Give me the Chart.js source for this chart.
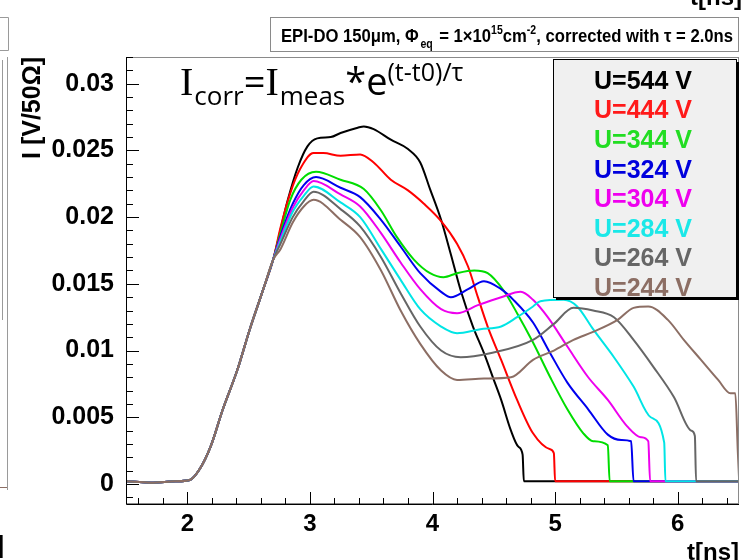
<!DOCTYPE html>
<html>
<head>
<meta charset="utf-8">
<script src="https://cdn.jsdelivr.net/npm/chart.js@4.4.0/dist/chart.umd.min.js"></script>
<style>
html, body { margin: 0; padding: 0; background: #fff; }
#wrap { width: 742px; height: 560px; position: relative; }
</style>
</head>
<body>
<div id="wrap"><canvas id="myChart" width="742" height="560"></canvas></div>
<script>
//============================== data ==============================
const legendLabels = ['U=544 V', 'U=444 V', 'U=344 V', 'U=324 V', 'U=304 V', 'U=284 V', 'U=264 V', 'U=244 V'];
const lineColors = ['#000000', '#ff0000', '#00dd00', '#0000ee', '#ee00ee', '#00e5e5', '#666666', '#8c6e64'];
const textColors = ['#000000', '#ff1a1a', '#22dd22', '#0000dd', '#ee00ee', '#1ae8e8', '#666666', '#8c6e64'];

const xTickValues = [2, 3, 4, 5, 6];
const xTickLabels = ['2', '3', '4', '5', '6'];
const yTickValues = [0, 0.005, 0.01, 0.015, 0.02, 0.025, 0.03];
const yTickLabels = ['0', '0.005', '0.01', '0.015', '0.02', '0.025', '0.03'];

// common baseline and rising edge (all voltages)
const riseT = [1.5, 1.7, 1.9, 2.02, 2.1, 2.19, 2.29, 2.41, 2.51, 2.62, 2.7];
const riseI = [0.0002, 0.0001, 0.0002, 0.0003, 0.0011, 0.0028, 0.0056, 0.0086, 0.0116, 0.0146, 0.0168];

const t544 = [2.82, 2.9, 2.98, 3.06, 3.17, 3.25, 3.39, 3.44, 3.52, 3.66, 3.8, 3.9, 3.98, 4.07, 4.15, 4.23, 4.33, 4.42, 4.5, 4.56, 4.64, 4.7, 4.735, 4.745, 6.5];
const i544 = [0.0213, 0.0237, 0.0253, 0.0259, 0.026, 0.0263, 0.0267, 0.0268, 0.0266, 0.0258, 0.0251, 0.0241, 0.0221, 0.0198, 0.0172, 0.0145, 0.0118, 0.0098, 0.0078, 0.0063, 0.0040, 0.0028, 0.0022, 0.0002, 0.0002];

const t444 = [2.76, 2.84, 2.92, 3.03, 3.11, 3.25, 3.41, 3.52, 3.66, 3.8, 3.93, 4.07, 4.2, 4.29, 4.37, 4.45, 4.56, 4.69, 4.82, 4.96, 4.99, 5.0, 6.5];
const i444 = [0.0192, 0.0218, 0.0236, 0.0248, 0.0248, 0.0246, 0.0247, 0.0241, 0.0228, 0.022, 0.021, 0.0197, 0.018, 0.0163, 0.014, 0.0118, 0.0093, 0.0063, 0.0038, 0.0026, 0.0023, 0.0002, 0.0002];

const t344 = [2.76, 2.84, 2.93, 3.05, 3.25, 3.44, 3.58, 3.71, 3.85, 3.98, 4.09, 4.2, 4.34, 4.45, 4.58, 4.69, 4.82, 4.96, 5.1, 5.23, 5.31, 5.43, 5.445, 6.5];
const i344 = [0.0188, 0.0213, 0.0228, 0.0234, 0.0228, 0.0221, 0.0205, 0.0185, 0.0168, 0.0158, 0.0155, 0.0158, 0.016, 0.0158, 0.0145, 0.0128, 0.0106, 0.008, 0.0056, 0.0038, 0.0032, 0.0029, 0.0002, 0.0002];

const t324 = [2.76, 2.86, 2.95, 3.05, 3.25, 3.41, 3.58, 3.74, 3.9, 4.07, 4.15, 4.29, 4.42, 4.56, 4.66, 4.82, 4.96, 5.1, 5.27, 5.43, 5.54, 5.62, 5.64, 6.5];
const i324 = [0.0186, 0.021, 0.0224, 0.023, 0.0222, 0.0215, 0.0198, 0.0178, 0.0158, 0.0144, 0.014, 0.0146, 0.0152, 0.0146, 0.0138, 0.0121, 0.0098, 0.0076, 0.0056, 0.0037, 0.0033, 0.0032, 0.0002, 0.0002];

const t304 = [2.76, 2.86, 2.95, 3.03, 3.25, 3.41, 3.58, 3.74, 3.9, 4.07, 4.2, 4.37, 4.56, 4.72, 4.82, 4.94, 5.1, 5.27, 5.43, 5.59, 5.7, 5.76, 5.775, 6.5];
const i304 = [0.0184, 0.0207, 0.022, 0.0227, 0.0217, 0.0208, 0.0188, 0.0166, 0.0146, 0.0131, 0.0128, 0.0134, 0.014, 0.0144, 0.0138, 0.0125, 0.0103, 0.008, 0.0063, 0.0043, 0.0035, 0.0032, 0.0002, 0.0002];

const t284 = [2.76, 2.86, 2.95, 3.03, 3.25, 3.41, 3.58, 3.74, 3.9, 4.07, 4.2, 4.39, 4.56, 4.69, 4.82, 4.88, 5.07, 5.18, 5.31, 5.48, 5.64, 5.78, 5.89, 5.9, 6.5];
const i284 = [0.0182, 0.0204, 0.0216, 0.0223, 0.0211, 0.02, 0.0176, 0.0153, 0.0131, 0.0118, 0.0113, 0.0116, 0.0118, 0.0125, 0.0133, 0.0137, 0.0138, 0.0133, 0.0116, 0.0095, 0.0073, 0.005, 0.0031, 0.0002, 0.0002];

const t264 = [2.76, 2.86, 2.95, 3.03, 3.25, 3.41, 3.58, 3.74, 3.9, 4.07, 4.23, 4.47, 4.82, 4.99, 5.15, 5.31, 5.48, 5.64, 5.8, 5.97, 6.11, 6.14, 6.15, 6.5];
const i264 = [0.018, 0.02, 0.0212, 0.0219, 0.0206, 0.0193, 0.017, 0.0143, 0.0118, 0.01, 0.0095, 0.0098, 0.0108, 0.012, 0.0132, 0.013, 0.0125, 0.0108, 0.0088, 0.0065, 0.004, 0.0036, 0.0002, 0.0002];

const t244 = [2.76, 2.86, 2.95, 3.03, 3.25, 3.41, 3.58, 3.74, 3.9, 4.07, 4.2, 4.42, 4.64, 4.82, 4.99, 5.15, 5.31, 5.51, 5.64, 5.76, 5.92, 6.05, 6.19, 6.33, 6.43, 6.47, 6.49, 6.5];
const i244 = [0.0176, 0.0196, 0.0208, 0.0213, 0.0198, 0.0185, 0.016, 0.013, 0.0105, 0.0085, 0.0078, 0.0079, 0.008, 0.0093, 0.01, 0.0108, 0.0114, 0.0123, 0.0132, 0.0133, 0.0123, 0.0108, 0.0093, 0.0078, 0.0068, 0.0068, 0.0025, 0.0005];

const seriesT = [t544, t444, t344, t324, t304, t284, t264, t244];
const seriesI = [i544, i444, i344, i324, i304, i284, i264, i244];

//============================== chart ==============================
const boldFont = (size) => ({ family: '"Liberation Sans", Arial, sans-serif', size: size, weight: 'bold' });

const datasets = legendLabels.map((lab, k) => {
    const ts = riseT.concat(seriesT[k]);
    const is = riseI.concat(seriesI[k]);
    return {
        label: lab,
        data: ts.map((t, j) => ({ x: t, y: is[j] })),
        borderColor: lineColors[k],
        borderWidth: 2,
        pointRadius: 0,
        cubicInterpolationMode: 'monotone',
        fill: false,
        order: legendLabels.length - k
    };
});

// draws text pieces one after the other, returns the end x
function runs(ctx, x, y, parts, measureOnly) {
    parts.forEach((p) => {
        ctx.font = p.font;
        if (!measureOnly) ctx.fillText(p.text, x, y + (p.dy || 0));
        x += ctx.measureText(p.text).width + (p.gap || 0);
    });
    return x;
}

// ROOT look: frame, inward ticks, title pave, legend pave, formula
const rootDecor = {
    id: 'rootDecor',
    afterDatasetsDraw(chart) {
        const ctx = chart.ctx;
        const a = chart.chartArea;
        const xs = chart.scales.x, ys = chart.scales.y;
        ctx.save();
        ctx.strokeStyle = '#8a8a8a';
        ctx.lineWidth = 1;
        ctx.strokeRect(a.left + 0.5, a.top + 0.5, a.right - a.left - 1, a.bottom - a.top - 1);
        ctx.strokeStyle = '#000';
        ctx.beginPath();
        ctx.moveTo(a.left + 0.5, a.top);
        ctx.lineTo(a.left + 0.5, a.bottom + 0.5);
        ctx.lineTo(a.right, a.bottom + 0.5);
        // x ticks every 0.2 ns
        for (let k = 8; k <= 32; k++) {
            const px = Math.round(xs.getPixelForValue(k / 5)) + 0.5;
            const len = (k % 5 === 0) ? 12 : 6;
            ctx.moveTo(px, a.bottom);
            ctx.lineTo(px, a.bottom - len);
        }
        // y ticks every 0.001
        for (let k = -1; k <= 32; k++) {
            const py = Math.round(ys.getPixelForValue(k / 1000)) + 0.5;
            const len = (k % 5 === 0) ? 13 : 7;
            ctx.moveTo(a.left, py);
            ctx.lineTo(a.left + len, py);
        }
        ctx.stroke();
        ctx.restore();
    },
    afterDraw(chart) {
        const ctx = chart.ctx;
        ctx.save();
        ctx.textBaseline = 'alphabetic';
        ctx.fillStyle = '#000';

        // remnants of neighbouring panels
        ctx.strokeStyle = '#9a9a9a';
        ctx.lineWidth = 1;
        ctx.beginPath();
        ctx.moveTo(0, 17.5); ctx.lineTo(8.5, 17.5); ctx.lineTo(8.5, 50.5); ctx.lineTo(0, 50.5);
        ctx.moveTo(7.5, 57); ctx.lineTo(7.5, 490);
        ctx.moveTo(2.5, 60); ctx.lineTo(2.5, 320);
        ctx.stroke();
        ctx.strokeStyle = '#8c6e64';
        ctx.beginPath();
        ctx.moveTo(0, 487.5); ctx.lineTo(7, 487.5);
        ctx.stroke();
        ctx.font = 'bold 24px "Liberation Sans"';
        ctx.textAlign = 'left';
        ctx.fillText(']', -4, 553);
        ctx.textAlign = 'right';
        ctx.fillText('t[ns]', 742, 5);

        // title pave
        ctx.fillStyle = '#fff';
        ctx.fillRect(270, 17, 468, 34);
        ctx.strokeStyle = '#8a8a8a';
        ctx.strokeRect(270.5, 17.5, 468, 34);
        ctx.fillStyle = '#000';
        ctx.textAlign = 'left';
        const big = 'bold 19px "Liberation Sans"', small = 'bold 12px "Liberation Sans"';
        const titleParts = [
            { text: 'EPI-DO 150\u03bcm, \u03a6', font: big, gap: 2 },
            { text: 'eq', font: small, dy: 6, gap: 2 },
            { text: ' = 1\u00d710', font: big },
            { text: '15', font: small, dy: -8 },
            { text: 'cm', font: big },
            { text: '-2', font: small, dy: -8 },
            { text: ', corrected with \u03c4 = 2.0ns', font: big }
        ];
        const tw = runs(ctx, 0, 0, titleParts, true);
        ctx.save();
        ctx.translate(281, 0);
        ctx.scale(452 / tw, 1);
        runs(ctx, 0, 42, titleParts);
        ctx.restore();

        // formula
        const fm = '38px "Open Sans"', fs = '26px "Open Sans"', fp = '25px "Open Sans"', fi = '40px "Liberation Serif"';
        runs(ctx, 180, 95, [
            { text: 'I', font: fi, gap: 1 },
            { text: 'corr', font: fs, dy: 10 },
            { text: '=', font: fm },
            { text: 'I', font: fi, gap: 1 },
            { text: 'meas', font: fs, dy: 10 },
            { text: '*', font: fm },
            { text: 'e', font: fm },
            { text: '(t-t0)/\u03c4', font: fp, dy: -14 }
        ]);

        // legend pave with shadow
        const lx = 553, ly = 59, lw = 183, lh = 238;
        ctx.fillStyle = '#000';
        ctx.fillRect(lx + 3, ly + 3, lw, lh);
        ctx.fillStyle = '#f0f0f0';
        ctx.fillRect(lx, ly, lw, lh);
        ctx.strokeStyle = '#000';
        ctx.strokeRect(lx + 0.5, ly + 0.5, lw, lh);
        ctx.save();
        ctx.beginPath();
        ctx.rect(lx + 1, ly + 1, lw - 1, lh - 1);
        ctx.clip();
        ctx.font = 'bold 25px "Liberation Sans"';
        ctx.textAlign = 'center';
        ctx.textBaseline = 'middle';
        legendLabels.forEach((lab, k) => {
            ctx.fillStyle = textColors[k];
            ctx.fillText(lab, 643, 82 + k * 29.6);
        });
        ctx.restore();
        ctx.restore();
    }
};

const ctx = document.getElementById('myChart');
const chart = new Chart(ctx, {
    type: 'line',
    data: { datasets: datasets },
    options: {
        responsive: false,
        animation: false,
        devicePixelRatio: 1,
        layout: { padding: { top: 57, right: 3, left: 0, bottom: 0 } },
        plugins: { legend: { display: false }, tooltip: { enabled: false } },
        scales: {
            x: {
                type: 'linear',
                min: 1.5,
                max: 6.5,
                afterBuildTicks: (s) => { s.ticks = xTickValues.map((v) => ({ value: v })); },
                afterFit: (s) => { s.height = 56; },
                grid: { display: false },
                border: { display: false },
                ticks: {
                    font: boldFont(24), color: '#000', padding: -2, maxRotation: 0, autoSkip: false,
                    callback: (v, i) => xTickLabels[i]
                },
                title: { display: true, text: 't[ns]', align: 'end', font: boldFont(24), color: '#000', padding: { top: 0, bottom: -8 } }
            },
            y: {
                type: 'linear',
                min: -0.0015,
                max: 0.032,
                afterBuildTicks: (s) => { s.ticks = yTickValues.map((v) => ({ value: v })); },
                afterFit: (s) => { s.width = 126; },
                grid: { display: false },
                border: { display: false },
                ticks: {
                    font: boldFont(25), color: '#000', padding: 4, autoSkip: false,
                    callback: (v, i) => yTickLabels[i]
                },
                title: { display: true, text: 'I [V/50\u03a9]', align: 'end', font: boldFont(25), color: '#000', padding: { top: 18, bottom: 0 } }
            }
        }
    },
    plugins: [rootDecor]
});
</script>
</body>
</html>
